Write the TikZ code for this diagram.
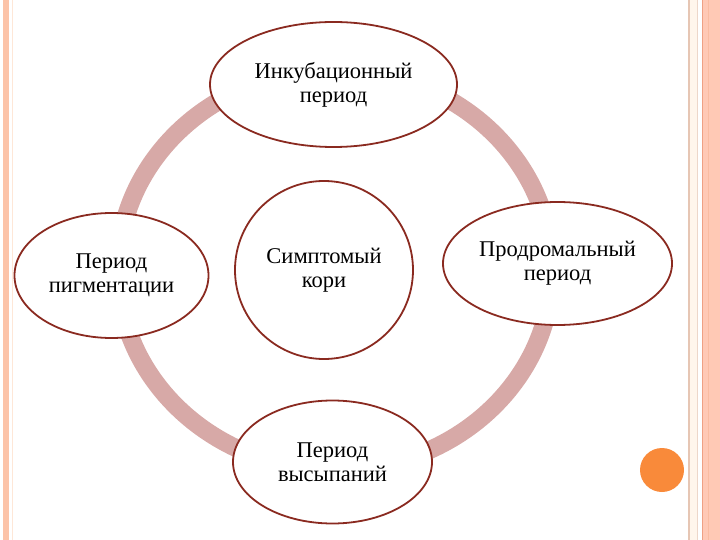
\documentclass[tikz,border=0pt]{standalone}
\usepackage{fontspec}
\setmainfont{Liberation Serif}
\usetikzlibrary{shapes.geometric}
\definecolor{edgec}{HTML}{8A2A20}
\definecolor{ringc}{HTML}{D7A9A7}
\definecolor{bandc}{HTML}{FCC3A8}
\definecolor{bandr}{HTML}{FFC9B5}
\definecolor{tanl}{HTML}{E6C6B4}
\definecolor{creamc}{HTML}{FFF6EC}
\definecolor{orl}{HTML}{EFA184}
\definecolor{dotc}{HTML}{F98A3A}
\begin{document}
\begin{tikzpicture}[x=1pt,y=-1pt,
  phase/.style={ellipse, draw=edgec, line width=1.8pt, fill=white, inner sep=0pt, align=center,
    font=\fontsize{22.5}{24}\selectfont},
]
\useasboundingbox (0,0) rectangle (720,540);
% page decorations
\fill[bandc] (3,0) rectangle (9,540);
\draw[creamc!70!bandc, line width=1pt] (12,0) -- (12,540);
\draw[tanl, line width=2pt] (689,0) -- (689,540);
\fill[creamc] (690,0) rectangle (697,540);
\draw[tanl!70, line width=1pt] (697.5,0) -- (697.5,540);
\fill[bandr] (702,0) rectangle (720,540);
\draw[orl, line width=1.5pt] (702.5,0) -- (702.5,540);
\draw[bandc!80!orl, line width=0.6pt] (708,0) -- (708,540);
\fill[dotc] (662,470) circle (22);
% ring
\draw[ringc, line width=18pt] (335,270) ellipse [x radius=217, y radius=200];
% phases
\node[phase, minimum width=247pt, minimum height=125pt] (inc) at (333.5,84.5) {Инкубационный\\период};
\node[phase, minimum width=194pt, minimum height=125pt] (pig) at (111.5,275.5) {Период\\пигментации};
\node[phase, minimum width=229pt, minimum height=123pt] (prod) at (557.5,263.5) {Продромальный\\период};
\node[phase, minimum width=199pt, minimum height=123pt] (vys) at (332.5,462) {Период\\высыпаний};
\node[phase, circle, minimum size=178pt] (sym) at (324,270) {Симптомый\\кори};
\end{tikzpicture}
\end{document}
